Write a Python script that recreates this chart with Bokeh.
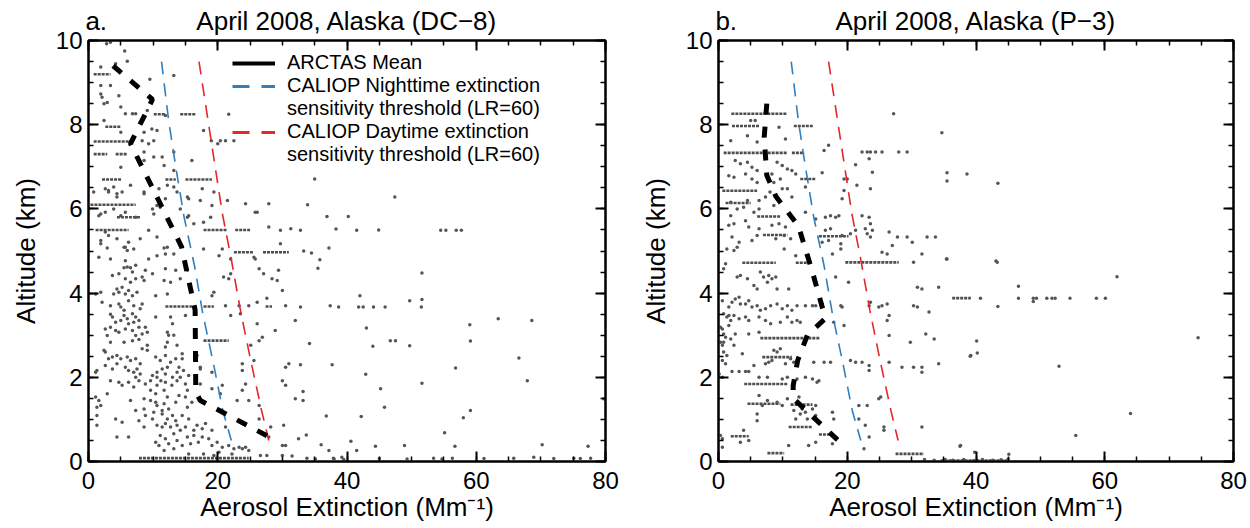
from bokeh.plotting import figure
from bokeh.layouts import row
from bokeh.models import (Range1d, SingleIntervalTicker, FixedTicker, LinearAxis, Legend, LegendItem,
                          CustomJSTickFormatter, ColumnDataSource)
from bokeh.embed import file_html
from bokeh.resources import INLINE

FONT = "Liberation Sans"

# ---------------- data ----------------
titles = ["April 2008, Alaska (DC\u22128)", "April 2008, Alaska (P\u22123)"]
letters = ["a.", "b."]
x_label = "Aerosol Extinction (Mm\u207b\u00b9)"
y_label = "Altitude (km)"

# CALIOP sensitivity thresholds (same in both panels)
night_alt = [9.5, 8.1, 7.0, 5.8, 4.65, 3.5, 2.35, 1.2, 0.5]
night_ext = [11.3, 12.4, 13.5, 14.8, 16.4, 17.7, 19.3, 20.8, 22.1]
day_alt = [9.5, 8.0, 7.0, 5.9, 4.8, 3.6, 2.4, 1.2, 0.5]
day_ext = [17.1, 18.6, 19.6, 20.7, 22.1, 23.5, 25.1, 26.8, 27.9]

# ARCTAS mean profiles
mean_alt_a = [9.4, 8.6, 7.55, 5.1, 3.6, 1.65, 1.45, 0.5]
mean_ext_a = [3.8, 9.9, 6.5, 14.4, 16.5, 16.6, 17.3, 29.0]
mean_alt_b = [8.5, 7.7, 6.8, 6.3, 5.6, 4.5, 3.4, 3.0, 2.4, 1.8, 1.5, 0.5]
mean_ext_b = [7.5, 7.1, 7.5, 8.9, 12.4, 14.6, 16.6, 13.8, 12.3, 11.6, 11.6, 18.6]

# individual samples (extinction, altitude) - DC-8
samples_a = [
    (2.8, 9.92), (3.4, 9.96), (5.6, 9.75), (6.0, 9.51), (4.2, 9.45), (1.9, 9.37), (13.2, 9.17), (9.5, 9.08),
    (1.9, 8.93), (3.4, 8.93), (2.1, 8.65), (4.7, 8.69), (1.9, 8.73), (2.4, 8.5), (2.9, 8.53), (5.0, 8.42),
    (5.7, 8.26), (6.8, 8.26), (7.3, 8.26), (9.1, 8.34), (2.4, 8.1), (5.0, 7.82), (8.6, 7.82), (9.8, 7.9),
    (10.6, 7.86), (11.9, 8.22), (21.7, 8.25), (17.8, 7.86), (19.0, 7.62), (20.0, 7.55), (20.4, 7.62),
    (21.2, 7.62), (22.5, 7.62), (8.3, 7.62), (9.3, 7.55), (10.1, 7.62), (8.6, 7.35), (10.1, 7.23),
    (11.4, 7.23), (13.2, 7.35), (16.0, 7.15), (5.0, 6.99), (8.6, 7.15), (11.7, 7.03), (13.2, 6.91),
    (3.9, 6.52), (3.1, 6.44), (4.4, 6.36), (6.5, 6.56), (10.9, 6.48), (8.6, 6.36), (12.2, 6.56),
    (13.2, 6.52), (15.3, 6.28), (17.3, 6.2), (21.5, 6.2), (24.3, 6.12), (27.9, 6.12), (26.1, 5.92),
    (0.8, 6.4), (2.6, 6.48), (3.1, 6.4), (4.4, 6.28), (5.2, 6.4), (8.6, 6.4), (11.9, 6.24), (13.7, 6.4),
    (15.5, 6.24), (17.6, 6.48), (19.1, 6.08), (19.4, 6.4), (1.6, 5.84), (2.6, 5.92), (3.9, 6.0),
    (5.0, 5.84), (5.7, 5.92), (7.3, 5.8), (9.9, 6.0), (10.6, 6.08), (1.9, 5.88), (10.1, 5.88),
    (11.1, 6.04), (14.2, 6.0), (15.3, 5.8), (16.3, 5.65), (15.5, 5.84), (18.9, 5.8), (17.8, 5.68),
    (25.8, 5.92), (2.6, 5.45), (3.1, 5.37), (4.4, 5.29), (6.2, 5.21), (1.9, 5.17), (5.7, 5.09),
    (10.6, 5.33), (8.0, 5.29), (9.3, 5.49), (1.9, 5.25), (5.5, 5.09), (6.0, 5.01), (12.2, 5.09),
    (13.2, 4.93), (27.9, 5.57), (29.7, 5.49), (31.3, 5.53), (29.7, 5.17), (25.6, 4.85),
    (35.0, 6.71), (47.4, 6.28), (33.9, 6.1), (36.9, 5.82), (40.2, 5.82), (32.8, 5.49), (38.3, 5.52),
    (41.5, 5.49), (44.9, 5.5), (54.5, 5.49), (55.3, 5.49), (56.9, 5.49), (57.7, 5.49), (33.3, 5.0),
    (34.5, 4.95), (37.2, 5.07), (35.8, 4.79), (35.5, 4.59), (51.6, 4.48), (32.8, 3.67), (37.4, 3.7),
    (38.7, 3.67), (42.0, 3.94), (41.8, 3.67), (42.5, 3.67), (44.1, 3.67), (45.9, 3.67), (49.7, 3.82),
    (51.6, 3.85), (51.5, 3.67), (43.0, 3.17), (34.2, 2.8), (46.7, 2.87), (47.5, 2.87), (44.0, 2.74),
    (49.7, 2.75), (59.0, 3.25), (59.1, 2.86), (63.4, 3.39), (68.6, 3.35), (32.8, 2.3), (37.7, 2.3),
    (42.9, 2.07), (56.8, 2.22), (66.6, 2.46), (67.9, 1.92), (51.6, 1.86), (33.2, 1.66), (33.2, 1.45),
    (45.2, 1.73), (45.8, 1.29), (36.8, 1.08), (42.2, 1.07), (59.1, 1.21), (58.0, 1.04), (33.7, 0.63),
    (36.0, 0.4), (40.6, 0.48), (44.4, 0.36), (48.9, 0.38), (55.1, 0.68), (56.7, 0.36), (37.2, 0.26),
    (41.5, 0.26), (70.2, 0.4), (77.3, 0.36), (79.7, 1.49),
    (33.8, 0.08), (35.1, 0.06), (37.9, 0.08), (39.5, 0.05), (45.0, 0.07), (49.3, 0.06), (53.4, 0.08),
    (54.7, 0.06), (56.3, 0.08), (61.2, 0.07), (65.8, 0.08), (68.9, 0.1), (72.0, 0.07), (75.1, 0.08),
    (76.1, 0.07), (77.7, 0.08),
    (2.9, 5.07), (7.0, 5.05), (11.7, 5.07), (17.8, 5.05), (20.7, 5.05),
    (1.6, 4.85), (3.4, 4.81), (5.7, 4.77), (9.3, 4.81), (10.6, 4.89), (11.9, 4.93), (20.2, 4.89),
    (22.0, 4.81), (25.8, 4.81), (5.5, 4.6), (6.0, 4.62), (6.5, 4.6), (7.3, 4.66), (8.8, 4.54),
    (11.9, 4.58), (13.5, 4.54), (15.3, 4.54), (29.4, 4.54), (20.9, 4.38), (22.0, 4.46), (26.4, 4.58),
    (27.1, 4.46), (3.7, 4.42), (4.7, 4.46), (6.8, 4.5), (8.3, 4.38), (5.7, 4.34), (6.5, 4.26),
    (7.3, 4.34), (8.6, 4.3), (9.9, 4.46), (11.7, 4.3), (12.7, 4.26), (14.2, 4.34), (21.7, 4.34),
    (28.4, 4.34), (29.2, 4.3), (4.4, 4.1), (5.2, 4.14), (6.2, 4.06), (3.9, 3.98), (4.7, 4.02),
    (5.7, 3.98), (6.8, 3.94), (7.5, 4.02), (10.4, 3.94), (12.2, 3.98), (19.1, 3.94), (19.4, 4.02),
    (30.0, 4.06), (1.9, 4.02), (1.1, 3.98), (2.1, 3.78), (3.4, 3.7), (4.7, 3.74), (5.0, 3.67),
    (6.2, 3.82), (7.0, 3.7), (8.0, 3.63), (8.3, 3.74), (5.5, 3.59), (21.2, 3.7), (23.3, 3.7),
    (24.8, 3.7), (30.5, 3.7), (26.1, 3.78), (27.6, 3.88), (3.4, 3.5), (3.7, 3.43), (4.2, 3.31),
    (5.0, 3.35), (5.5, 3.47), (6.0, 3.39), (6.8, 3.51), (7.3, 3.43), (7.8, 3.35), (7.0, 3.31),
    (6.2, 3.27), (10.4, 3.43), (12.7, 3.43), (13.0, 3.27), (15.0, 3.47), (22.0, 3.47), (23.5, 3.51),
    (26.1, 3.27), (32.0, 3.35), (2.6, 3.15), (3.4, 3.19), (4.2, 3.11), (4.7, 3.07), (5.7, 3.15),
    (6.8, 3.11), (7.8, 3.19), (8.8, 3.19), (7.3, 2.99), (8.3, 3.03), (9.1, 3.07), (12.2, 3.07),
    (12.4, 3.0), (13.2, 3.0), (26.9, 2.95), (28.9, 3.11), (2.9, 2.99), (3.4, 2.83), (5.5, 2.83),
    (6.8, 2.87), (7.8, 2.9), (9.1, 2.76), (8.3, 2.68), (11.9, 2.72), (12.2, 2.83), (13.7, 2.76),
    (26.4, 2.87), (25.1, 2.76), (2.4, 2.64), (2.6, 2.6), (3.1, 2.44), (3.7, 2.48), (4.4, 2.52),
    (5.0, 2.44), (6.0, 2.48), (6.5, 2.4), (7.3, 2.44), (8.0, 2.32), (9.1, 2.64), (10.4, 2.48),
    (11.1, 2.4), (11.9, 2.52), (12.7, 2.36), (13.5, 2.44), (14.5, 2.56), (14.5, 2.44), (16.8, 2.52),
    (17.3, 2.24), (23.8, 2.32), (25.6, 2.4), (31.0, 2.32), (1.3, 2.16), (2.6, 2.28), (3.7, 2.2),
    (4.4, 2.32), (5.7, 2.24), (6.2, 2.16), (7.0, 2.12), (7.5, 2.2), (7.3, 2.0), (8.0, 2.08),
    (9.9, 2.04), (10.6, 2.12), (11.4, 2.2), (12.2, 2.24), (11.9, 2.08), (13.0, 2.0), (13.7, 2.12),
    (14.0, 2.24), (14.7, 2.16), (15.5, 2.04), (17.3, 2.2), (19.1, 2.12), (23.8, 2.16), (30.5, 2.24),
    (1.1, 2.12), (3.4, 1.92), (4.7, 1.88), (5.2, 1.81), (6.2, 1.88), (7.0, 1.77), (7.8, 1.92),
    (8.8, 1.84), (9.6, 1.92), (10.6, 2.0), (10.6, 1.81), (11.2, 1.92), (11.9, 1.88), (12.9, 1.81),
    (13.7, 1.92), (14.2, 2.0), (15.0, 1.84), (15.3, 1.69), (9.6, 1.69), (10.4, 1.61), (11.7, 1.69),
    (19.1, 1.73), (17.3, 1.84), (20.7, 1.81), (20.4, 1.61), (23.8, 1.69), (24.3, 1.84), (30.5, 1.81),
    (30.0, 1.92), (32.0, 1.49), (2.9, 1.61), (1.1, 1.53), (1.9, 1.33), (1.3, 1.29), (1.6, 1.45),
    (6.5, 1.45), (8.6, 1.49), (9.6, 1.45), (10.4, 1.41), (10.6, 1.33), (11.7, 1.37), (12.2, 1.53),
    (11.4, 1.21), (10.1, 1.17), (13.5, 1.41), (14.0, 1.57), (12.4, 1.25), (15.0, 1.53), (15.3, 1.29),
    (16.0, 1.41), (17.8, 1.41), (23.0, 1.45), (24.8, 1.45), (26.4, 1.33), (7.3, 1.21), (8.6, 1.25),
    (1.3, 1.09), (4.2, 1.01), (5.2, 0.93), (7.8, 0.97), (8.8, 1.09), (9.9, 1.01), (11.4, 1.13),
    (12.2, 1.01), (13.0, 1.09), (13.5, 0.97), (14.5, 1.09), (15.5, 1.01), (10.6, 0.86), (11.4, 0.82),
    (11.9, 0.9), (12.7, 0.82), (13.7, 0.86), (14.2, 0.74), (15.0, 0.82), (16.3, 0.74), (16.8, 0.86),
    (18.1, 0.9), (17.6, 0.78), (19.1, 0.74), (21.2, 0.82), (26.4, 1.01), (28.2, 0.82), (30.2, 0.86),
    (8.6, 0.82), (1.3, 0.86), (4.4, 0.58), (6.2, 0.58), (10.4, 0.46), (11.1, 0.62), (11.9, 0.54),
    (12.4, 0.42), (13.2, 0.66), (13.7, 0.5), (14.5, 0.38), (15.3, 0.58), (15.8, 0.42), (16.3, 0.62),
    (17.0, 0.46), (17.6, 0.58), (18.6, 0.54), (19.1, 0.38), (19.9, 0.46), (20.7, 0.34), (21.7, 0.38),
    (22.5, 0.3), (23.3, 0.34), (23.8, 0.3), (24.3, 0.34), (24.8, 0.26), (27.9, 0.58), (30.0, 0.38),
    (30.5, 0.38), (32.5, 0.54), (10.9, 0.38), (11.7, 0.26), (13.2, 0.3), (15.5, 0.18), (17.8, 0.18),
    (20.2, 0.22), (22.2, 0.18), (19.4, 0.14), (26.6, 0.14), (27.6, 0.14), (30.0, 0.14), (31.5, 0.13),
    (38.0, 0.06), (39.2, 0.1),
]

# horizontal runs of closely spaced samples (level flight legs) - DC-8
legs_alt_a = [9.2, 8.25, 8.25, 7.95, 7.6, 7.3, 7.3, 6.7, 6.7, 6.7, 6.1, 5.8, 5.5, 5.5, 5.5,
              4.97, 4.97, 3.68, 3.68, 3.68, 2.87, 0.08]
legs_from_a = [0.8, 10.1, 14.2, 2.6, 0.8, 0.8, 4.2, 2.1, 11.9, 15.0, 0.3, 4.4, 1.1, 17.8, 22.7,
               22.5, 27.0, 11.9, 17.8, 27.4, 17.8, 7.8]
legs_to_a = [3.4, 11.9, 16.6, 5.0, 7.0, 2.9, 6.0, 5.2, 13.5, 19.1, 7.3, 8.0, 6.2, 21.5, 25.0,
             25.5, 31.0, 16.0, 19.4, 28.4, 21.7, 24.8]

# individual samples (extinction, altitude) - P-3
samples_b = [
    (27.2, 8.26), (34.7, 7.81), (5.7, 8.1), (5.0, 8.1), (9.4, 7.94), (1.9, 7.62), (4.5, 7.74),
    (6.0, 7.59), (10.4, 7.66), (17.1, 7.51), (16.4, 7.39), (21.3, 7.05), (23.4, 7.19), (23.9, 6.87),
    (35.5, 6.86), (35.5, 6.66), (38.6, 6.83), (43.4, 6.61), (16.1, 6.86), (11.4, 6.91), (12.0, 6.83),
    (9.1, 7.11), (9.9, 7.03), (2.6, 7.15), (3.4, 7.07), (4.5, 7.11), (5.2, 6.99), (6.0, 6.91),
    (1.6, 6.79), (2.4, 6.75), (4.2, 6.83), (5.2, 6.71), (6.0, 6.63), (8.3, 6.83), (8.6, 6.63),
    (9.6, 6.71), (10.7, 6.95), (19.5, 6.71), (20.0, 6.71), (19.5, 6.44), (19.2, 6.24), (21.5, 6.56),
    (23.6, 6.48), (13.5, 6.52), (9.9, 6.48), (10.7, 6.48), (11.4, 6.28), (7.3, 6.28), (8.0, 6.4),
    (1.9, 6.16), (4.5, 6.2), (6.3, 6.2), (2.9, 6.0), (3.9, 6.04), (5.5, 5.92), (6.3, 6.0), (8.6, 6.08),
    (1.9, 5.84), (1.6, 5.61), (2.4, 5.65), (4.2, 5.72), (4.7, 5.57), (6.3, 5.53), (8.3, 5.61),
    (9.4, 5.65), (10.4, 5.57), (2.1, 5.33), (3.2, 5.21), (5.2, 5.25), (6.0, 5.37), (8.9, 5.29),
    (10.2, 5.37), (11.2, 5.29), (13.5, 5.92), (15.1, 5.76), (16.6, 5.8), (17.4, 5.84), (18.2, 5.8),
    (18.7, 5.84), (22.3, 5.84), (23.4, 5.8), (23.6, 5.65), (23.9, 5.49), (22.8, 5.53), (26.5, 5.45),
    (27.8, 5.33), (29.3, 5.33), (30.1, 5.21), (32.4, 5.33), (33.7, 5.33), (16.6, 5.49), (17.4, 5.53),
    (16.1, 5.21), (17.1, 5.25), (19.0, 5.17), (19.2, 5.37), (20.5, 5.41), (21.3, 5.49), (23.1, 5.41),
    (23.6, 5.33), (27.0, 5.13), (35.5, 4.81), (43.3, 4.73), (31.6, 4.93), (30.3, 4.73),
    (22.3, 7.35), (23.1, 7.35), (23.6, 7.35), (24.4, 7.35), (25.4, 7.35), (28.0, 7.35), (29.3, 7.35),
    (1.3, 5.05), (2.4, 5.01), (2.9, 5.09), (10.2, 5.05), (12.0, 4.89), (17.7, 4.93), (19.0, 5.05),
    (25.4, 4.97), (26.2, 4.93), (0.8, 4.58), (1.1, 4.7), (2.9, 4.38), (3.4, 4.42), (4.5, 4.34),
    (6.5, 4.5), (7.0, 4.38), (7.8, 4.42), (8.3, 4.34), (8.9, 4.38), (5.5, 4.18), (6.0, 4.1),
    (10.9, 4.1), (9.1, 4.1), (7.6, 4.26), (18.2, 4.38), (20.2, 4.26), (30.9, 4.14), (31.6, 4.1),
    (34.2, 4.14), (0.6, 3.82), (1.6, 3.67), (2.1, 3.78), (2.6, 3.86), (3.2, 3.9), (3.4, 3.74),
    (4.2, 3.74), (4.7, 3.82), (5.2, 3.67), (6.0, 3.7), (6.5, 3.59), (7.3, 3.63), (8.1, 3.7),
    (9.1, 3.74), (9.9, 3.63), (10.7, 3.7), (11.4, 3.59), (12.2, 3.7), (13.5, 3.7), (14.6, 3.7),
    (15.1, 3.7), (16.1, 3.74), (19.0, 3.7), (19.2, 3.67), (23.4, 3.7), (25.4, 3.7), (26.2, 3.74),
    (24.9, 3.67), (26.5, 3.47), (26.2, 3.35), (23.6, 3.78), (30.3, 3.7), (30.9, 3.67), (32.7, 3.55),
    (0.8, 3.51), (1.3, 3.43), (1.6, 3.47), (1.9, 3.35), (2.4, 3.47), (3.2, 3.39), (4.2, 3.43),
    (4.7, 3.35), (6.3, 3.43), (7.3, 3.35), (8.1, 3.27), (9.6, 3.31), (10.7, 3.43), (11.4, 3.31),
    (12.2, 3.35), (12.7, 3.31), (1.6, 3.23), (0.3, 3.19), (0.6, 3.15), (0.8, 3.03), (1.1, 2.95),
    (1.9, 2.91), (2.4, 2.76), (0.8, 2.83), (2.6, 3.03), (0.3, 2.83), (4.7, 3.03), (6.3, 3.07),
    (17.9, 3.31), (19.5, 3.23), (26.5, 2.99), (29.8, 2.83), (32.2, 3.03), (33.5, 2.91),
    (0.6, 2.76), (0.8, 2.6), (1.3, 2.52), (0.6, 2.4), (1.1, 2.32), (3.7, 2.56), (8.6, 2.64),
    (9.1, 2.6), (9.6, 2.68), (11.2, 2.44), (8.3, 2.4), (7.8, 2.36), (7.3, 2.32), (10.4, 2.32),
    (11.7, 2.36), (14.8, 2.36), (16.4, 2.36), (17.4, 2.36), (20.5, 2.4), (21.3, 2.36), (22.3, 2.36),
    (23.4, 2.28), (23.4, 2.16), (26.5, 2.36), (28.5, 2.24), (30.3, 2.24), (31.6, 2.24), (31.6, 2.12),
    (34.2, 2.32), (39.2, 2.52), (40.1, 2.86), (39.1, 2.5), (40.2, 2.58), (52.9, 2.26), (74.5, 2.94),
    (0.1, 2.08), (0.6, 2.0), (2.1, 2.14), (3.2, 2.14), (4.2, 2.14), (4.7, 2.14), (5.5, 2.28),
    (6.3, 2.0), (7.6, 2.0), (9.9, 1.96), (10.7, 2.0), (12.2, 1.96), (13.5, 2.0), (14.6, 1.96),
    (15.3, 1.88), (15.6, 1.92), (25.2, 1.53), (24.9, 1.49), (21.8, 1.33), (23.1, 1.33),
    (6.3, 1.57), (6.8, 1.33), (7.6, 1.45), (9.1, 1.41), (9.9, 1.33), (10.7, 1.49), (12.5, 1.53),
    (13.0, 1.25), (13.5, 1.17), (11.7, 1.21), (14.6, 1.25), (15.1, 1.33), (17.7, 1.17), (6.0, 1.13),
    (6.0, 0.97), (12.0, 1.01), (12.7, 1.13), (13.8, 1.01), (15.1, 1.09), (17.9, 1.01), (21.8, 1.01),
    (22.8, 0.86), (25.7, 0.82), (25.7, 0.74), (31.6, 0.82), (3.9, 0.74), (3.4, 0.46), (4.7, 0.5),
    (0.6, 0.54), (0.6, 0.34), (0.3, 0.62), (15.1, 0.46), (14.0, 0.38), (17.7, 0.42), (23.4, 0.58),
    (22.6, 0.3), (10.9, 0.38), (37.6, 0.38), (64.0, 1.14), (55.5, 0.62), (37.5, 0.36), (39.8, 0.22),
    (45.1, 0.17), (61.9, 4.39), (46.6, 4.16), (43.4, 3.68), (48.9, 3.8), (35.4, 4.81), (43.1, 4.76),
    (40.7, 3.88), (46.6, 3.88), (48.9, 3.88), (49.4, 3.88), (51.0, 3.88), (51.8, 3.88), (52.3, 3.88),
    (54.6, 3.88), (58.7, 3.88), (60.1, 3.88),
    (32.0, 0.05), (33.5, 0.03), (35.2, 0.05), (36.4, 0.03), (38.1, 0.05), (39.6, 0.02), (41.0, 0.05),
    (42.6, 0.03), (43.9, 0.04), (45.0, 0.06),
]

# horizontal runs of closely spaced samples (level flight legs) - P-3
legs_alt_b = [8.26, 7.97, 7.97, 7.33, 7.33, 6.71, 6.43, 6.14, 5.82, 5.38, 5.35, 4.72, 4.72, 4.73,
              3.88, 2.93, 2.48, 1.84, 1.37, 1.35, 0.82, 0.64, 0.6, 0.2, 0.18, 0.02]
legs_from_b = [2.0, 2.1, 11.7, 0.8, 11.4, 12.7, 0.6, 1.1, 6.0, 6.9, 15.6, 3.7, 12.0, 19.7,
               36.3, 6.5, 6.8, 4.0, 4.5, 11.2, 10.9, 15.6, 1.9, 7.6, 27.5, 34.5]
legs_to_b = [10.7, 6.3, 14.8, 10.7, 13.3, 15.1, 6.0, 5.0, 9.6, 10.7, 20.2, 8.9, 14.3, 28.0,
             39.2, 15.8, 11.4, 10.8, 9.6, 14.6, 14.6, 18.0, 4.7, 10.2, 31.9, 44.8]

# ---------------- styling ----------------
DOT = "#555555"
BLUE = "#2f7fc1"
RED = "#e5262b"
NAN = float("nan")


def build(idx, samples, legs_alt, legs_from, legs_to, mean_ext, mean_alt,
          frame_w, border_l, border_r, with_legend):
    p = figure(frame_width=frame_w, frame_height=421,
               x_range=Range1d(0, 80), y_range=Range1d(0, 10),
               output_backend="svg", toolbar_location=None,
               min_border_left=border_l, min_border_right=border_r,
               min_border_top=40, min_border_bottom=67,
               background_fill_color="white", border_fill_color="white")
    p.grid.visible = False
    p.outline_line_color = "black"
    p.outline_line_width = 2
    p.title.visible = False

    def style(ax, xdir, labelled):
        ax.ticker = SingleIntervalTicker(interval=20 if xdir else 2, num_minor_ticks=4)
        ax.axis_line_width = 2
        ax.axis_line_color = "black"
        ax.major_tick_line_width = 2
        ax.minor_tick_line_width = 1.5
        ax.major_tick_in = 10
        ax.major_tick_out = 0
        ax.minor_tick_in = 5
        ax.minor_tick_out = 0
        if labelled:
            ax.major_label_text_font = FONT
            ax.major_label_text_font_size = "24px"
            ax.major_label_text_color = "black"
            ax.major_label_standoff = 10 if xdir else 6
            ax.axis_label_text_font = FONT
            ax.axis_label_text_font_size = "26px"
            ax.axis_label_text_font_style = "normal"
            ax.axis_label_text_color = "black"
            ax.axis_label_standoff = 0 if xdir else 12
        else:
            ax.formatter = CustomJSTickFormatter(code="return ''")
            ax.major_label_text_font_size = "1px"
            ax.major_label_standoff = 0

    xa = p.xaxis[0]
    ya = p.yaxis[0]
    style(xa, True, True)
    style(ya, False, True)
    xa.axis_label = x_label
    ya.axis_label = y_label
    top = LinearAxis()
    right = LinearAxis()
    style(top, True, False)
    style(right, False, False)
    p.add_layout(top, "above")
    p.add_layout(right, "right")

    # panel letter and title, on one line above the frame
    head = LinearAxis(ticker=FixedTicker(ticks=[1.2, 40]),
                      major_label_overrides={1.2: letters[idx], 40: titles[idx]})
    head.axis_line_alpha = 0
    head.major_tick_line_alpha = 0
    head.major_tick_in = 0
    head.major_tick_out = 0
    head.minor_tick_in = 0
    head.minor_tick_out = 0
    head.major_label_standoff = 5
    head.major_label_text_font = FONT
    head.major_label_text_font_size = "26px"
    head.major_label_text_color = "black"
    p.add_layout(head, "above")

    # samples
    p.segment(x0=legs_from, y0=legs_alt, x1=legs_to, y1=legs_alt,
              line_color="#4d4d4d", line_width=2.6, line_dash="3 1")
    src = ColumnDataSource(dict(ext=[s[0] for s in samples], alt=[s[1] for s in samples]))
    p.scatter("ext", "alt", source=src, size=3.5, marker="circle",
              fill_color=DOT, line_color=None)

    # thresholds and mean
    p.line(night_ext, night_alt, line_color=BLUE, line_width=1.6, line_dash="13 9")
    p.line(day_ext, day_alt, line_color=RED, line_width=1.6, line_dash="13 9")
    p.line(mean_ext, mean_alt, line_color="black", line_width=5, line_dash="11 12")

    if with_legend:
        r_mean = p.line(x=[NAN], y=[NAN], line_color="black", line_width=4)
        r_night = p.line(x=[NAN], y=[NAN], line_color=BLUE, line_width=3, line_dash="17 12")
        r_day = p.line(x=[NAN], y=[NAN], line_color=RED, line_width=3, line_dash="17 12")
        r_none = p.line(x=[NAN], y=[NAN], line_alpha=0)
        legend = Legend(items=[
            LegendItem(label="ARCTAS Mean", renderers=[r_mean]),
            LegendItem(label="CALIOP Nighttime extinction", renderers=[r_night]),
            LegendItem(label="sensitivity threshold (LR=60)", renderers=[r_none]),
            LegendItem(label="CALIOP Daytime extinction", renderers=[r_day]),
            LegendItem(label="sensitivity threshold (LR=60)", renderers=[r_none]),
        ], location=(144, 295))
        legend.padding = 0
        legend.margin = 0
        legend.spacing = 0
        legend.border_line_alpha = 0
        legend.background_fill_alpha = 0
        legend.glyph_width = 43
        legend.glyph_height = 22
        legend.label_height = 22
        legend.label_standoff = 12
        legend.label_text_font = FONT
        legend.label_text_font_size = "20px"
        legend.label_text_color = "black"
        p.add_layout(legend)
    return p


pa = build(0, samples_a, legs_alt_a, legs_from_a, legs_to_a, mean_ext_a, mean_alt_a,
           517, 88, 20, True)
pb = build(1, samples_b, legs_alt_b, legs_from_b, legs_to_b, mean_ext_b, mean_alt_b,
           515, 93, 17, False)

layout = row(pa, pb)
open("out.html", "w").write(file_html(layout, INLINE))
